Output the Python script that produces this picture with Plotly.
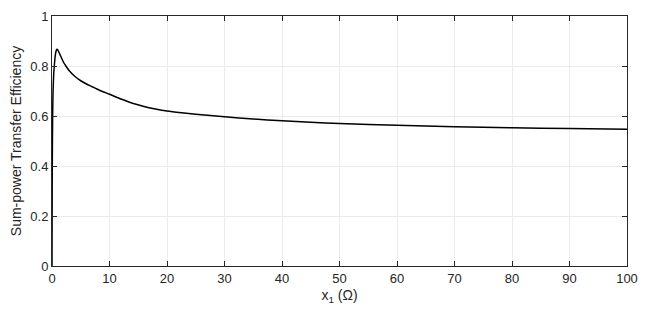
import plotly.graph_objects as go

x_vals = [0, 0.03, 0.06, 0.1, 0.15, 0.2, 0.3, 0.4, 0.55, 0.7, 0.85, 1.0, 1.2, 1.6, 2.0, 2.5, 3, 4, 5, 6, 7, 8, 9, 10,
          12, 14, 16, 18, 20, 22.5, 25, 30, 35, 40, 45, 50, 60, 70, 80, 90, 100]
y_vals = [0, 0.30, 0.46, 0.58, 0.66, 0.71, 0.77, 0.80, 0.838, 0.859, 0.867, 0.865, 0.855, 0.835, 0.815, 0.797,
          0.781, 0.758, 0.741, 0.728, 0.717, 0.706, 0.696, 0.687, 0.668, 0.651, 0.638, 0.628, 0.620, 0.613, 0.607,
          0.597, 0.588, 0.581, 0.575, 0.570, 0.563, 0.557, 0.553, 0.550, 0.547]

x_ticks = [0, 10, 20, 30, 40, 50, 60, 70, 80, 90, 100]
y_ticks = [0, 0.2, 0.4, 0.6, 0.8, 1]
y_tick_text = ["0", "0.2", "0.4", "0.6", "0.8", "1"]

FONT = "Liberation Sans, Arial, sans-serif"

fig = go.Figure()
fig.add_trace(go.Scatter(x=x_vals, y=y_vals, mode="lines",
                         line=dict(color="black", width=1.5, shape="spline", smoothing=0.5),
                         showlegend=False, hoverinfo="skip"))

axis_common = dict(
    showline=True, linecolor="#262626", linewidth=1, mirror="ticks",
    ticks="inside", ticklen=5, tickcolor="#262626", tickwidth=1,
    showgrid=True, gridcolor="#ebebeb", gridwidth=1, zeroline=False,
    automargin=False,
    tickfont=dict(family=FONT, size=13, color="#262626"),
)

fig.update_xaxes(range=[0, 100], tickvals=x_ticks,
                 title=dict(text="x<sub>1</sub> (Ω)", standoff=5,
                            font=dict(family=FONT, size=14, color="#262626")),
                 **axis_common)
fig.update_yaxes(range=[0, 1], tickvals=y_ticks, ticktext=y_tick_text,
                 title=dict(text="Sum-power Transfer Efficiency", standoff=5,
                            font=dict(family=FONT, size=14, color="#262626")),
                 **axis_common)

fig.update_layout(width=654, height=310, margin=dict(l=52, r=27, t=16, b=44),
                  paper_bgcolor="white", plot_bgcolor="white")

fig.write_html("out.html", config={"displayModeBar": False},
               post_script="document.body.style.margin='0';document.body.style.padding='0';")
